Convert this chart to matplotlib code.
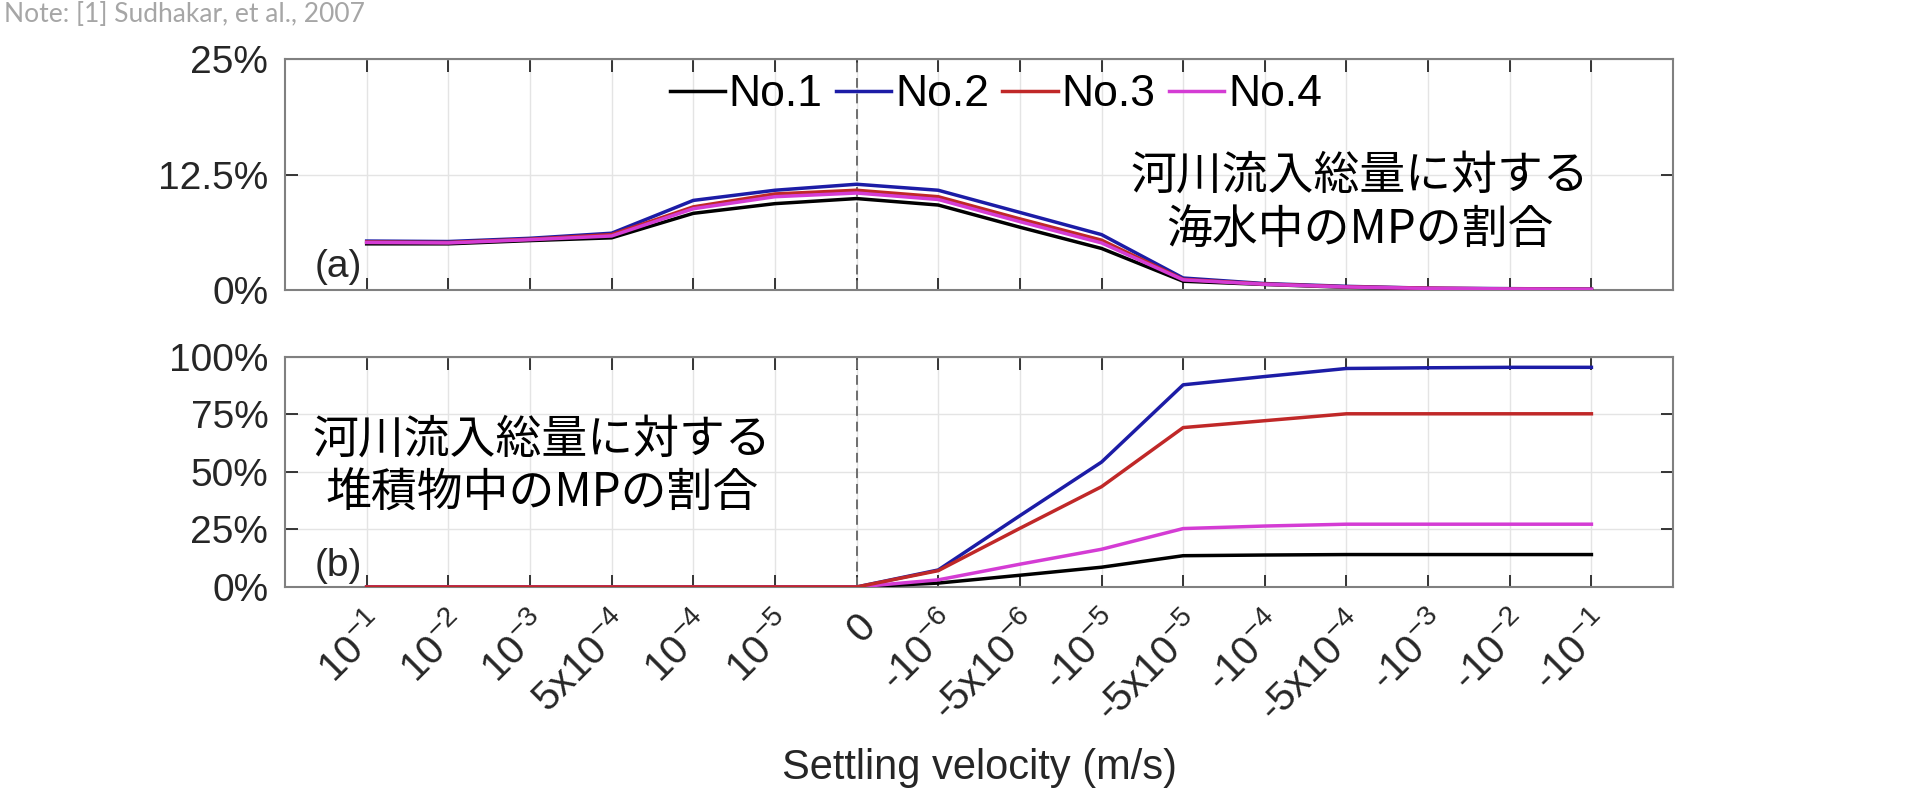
import numpy as np
import matplotlib
matplotlib.use("Agg")
import matplotlib.pyplot as plt
from matplotlib.ticker import FuncFormatter

plt.rcParams["font.family"] = ["Liberation Sans", "DejaVu Sans"]
plt.rcParams["mathtext.fontset"] = "custom"
plt.rcParams["mathtext.rm"] = "Liberation Sans"

# Settling velocity classes (positive = rising, negative = sinking)
velocity_labels = [
    r"$\mathregular{10^{-1}}$", r"$\mathregular{10^{-2}}$", r"$\mathregular{10^{-3}}$",
    r"$\mathregular{5x10^{-4}}$", r"$\mathregular{10^{-4}}$", r"$\mathregular{10^{-5}}$",
    "0",
    r"-$\mathregular{10^{-6}}$", r"-$\mathregular{5x10^{-6}}$", r"-$\mathregular{10^{-5}}$",
    r"-$\mathregular{5x10^{-5}}$", r"-$\mathregular{10^{-4}}$", r"-$\mathregular{5x10^{-4}}$",
    r"-$\mathregular{10^{-3}}$", r"-$\mathregular{10^{-2}}$", r"-$\mathregular{10^{-1}}$",
]
zero_label = "0"

series_names = ["No.1", "No.2", "No.3", "No.4"]

# (a) share of MPs remaining in seawater, % of total river input
sea_no1 = [5.0, 5.0, 5.35, 5.65, 8.3, 9.35, 9.9, 9.2, 6.8, 4.5, 0.95, 0.6, 0.3, 0.15, 0.1, 0.05]
sea_no2 = [5.3, 5.25, 5.6, 6.15, 9.7, 10.8, 11.45, 10.8, 8.4, 6.0, 1.3, 0.7, 0.4, 0.2, 0.15, 0.1]
sea_no3 = [5.2, 5.15, 5.5, 6.0, 9.0, 10.4, 10.8, 10.1, 7.7, 5.4, 1.15, 0.65, 0.35, 0.2, 0.12, 0.08]
sea_no4 = [5.15, 5.1, 5.45, 5.85, 8.8, 10.1, 10.5, 9.8, 7.4, 5.1, 1.1, 0.62, 0.33, 0.18, 0.12, 0.08]

# (b) share of MPs deposited in sediment, % of total river input
sed_no1 = [0, 0, 0, 0, 0, 0, 0, 1.7, 5.1, 8.6, 13.6, 13.9, 14.1, 14.1, 14.1, 14.1]
sed_no2 = [0, 0, 0, 0, 0, 0, 0, 7.4, 31.0, 54.3, 87.9, 91.5, 95.0, 95.3, 95.5, 95.5]
sed_no3 = [0, 0, 0, 0, 0, 0, 0, 7.1, 25.5, 43.6, 69.3, 72.3, 75.3, 75.3, 75.3, 75.3]
sed_no4 = [0, 0, 0, 0, 0, 0, 0, 3.1, 9.9, 16.4, 25.4, 26.5, 27.3, 27.3, 27.3, 27.3]

sea_series = [sea_no1, sea_no2, sea_no3, sea_no4]
sed_series = [sed_no1, sed_no2, sed_no3, sed_no4]

colors = ["#000000", "#1c1ca6", "#c02828", "#d43cd4"]

jp_font = ["Noto Sans CJK JP", "DejaVu Sans"]

fig = plt.figure(figsize=(19.18, 7.97), dpi=100)
ax_a = fig.add_axes([0.1486, 0.6361, 0.7237, 0.2898])
ax_b = fig.add_axes([0.1486, 0.2635, 0.7237, 0.2886])

x = np.arange(len(velocity_labels))
zero_pos = velocity_labels.index(zero_label)
pct = FuncFormatter(lambda v, p: f"{v:g}%")


def style_axes(ax, yticks):
    ax.set_xlim(-1, len(velocity_labels))
    ax.set_xticks(x)
    ax.set_yticks(yticks)
    ax.set_ylim(yticks[0], yticks[-1])
    ax.yaxis.set_major_formatter(pct)
    ax.grid(True, color="#e4e4e4", linewidth=1.0, zorder=0)
    ax.set_axisbelow(True)
    for s in ax.spines.values():
        s.set_color("#808080")
        s.set_linewidth(1.5)
    ax.tick_params(axis="both", direction="in", top=True, right=True,
                   length=9, width=1.3, color="#262626",
                   labelsize=28, labelcolor="#262626")
    ax.tick_params(axis="y", pad=12)
    ax.axvline(zero_pos, color="#6e6e6e", linestyle=(0, (5, 3)),
               linewidth=1.4, zorder=1)


# Panel (a)
style_axes(ax_a, [0, 12.5, 25])
for name, vals, c in zip(series_names, sea_series, colors):
    ax_a.plot(x, vals, color=c, linewidth=2.5, label=name, zorder=3)
ax_a.tick_params(axis="x", labelbottom=False)
ax_a.legend(loc="center", bbox_to_anchor=(0.512, 0.845), ncol=4,
            frameon=False, fontsize=32, handlelength=1.25,
            handletextpad=0.08, columnspacing=0.3, borderpad=0)
ax_a.text(0.021, 0.02, "(a)", transform=ax_a.transAxes, fontsize=28,
          ha="left", va="bottom", color="#262626")
ax_a.text(0.7745, 0.379, "河川流入総量に対する\n海水中のMPの割合",
          transform=ax_a.transAxes, family=jp_font, fontsize=33,
          ha="center", va="center", multialignment="center",
          linespacing=1.15, color="#000000")

# Panel (b)
style_axes(ax_b, [0, 25, 50, 75, 100])
draw_order = [0, 1, 3, 2]
for i in draw_order:
    ax_b.plot(x, sed_series[i], color=colors[i], linewidth=2.5, zorder=3)
ax_b.set_xticklabels(velocity_labels, rotation=45, ha="right",
                     rotation_mode="anchor", fontsize=29)
ax_b.tick_params(axis="x", pad=14)
ax_b.text(0.021, 0.013, "(b)", transform=ax_b.transAxes, fontsize=28,
          ha="left", va="bottom", color="#262626")
ax_b.text(0.185, 0.526, "河川流入総量に対する\n堆積物中のMPの割合",
          transform=ax_b.transAxes, family=jp_font, fontsize=33,
          ha="center", va="center", multialignment="center",
          linespacing=1.15, color="#000000")

fig.text(979 / 1918, 1 - 768 / 797, "Settling velocity (m/s)",
         fontsize=30, ha="center", va="center", color="#262626")

fig.text(0.002, 1 - 22 / 797, "Note: [1] Sudhakar, et al., 2007",
         fontsize=19, family=["Lato", "DejaVu Sans"], color="#a6a6a6",
         ha="left", va="baseline")

fig.savefig("out.png", dpi=100)
